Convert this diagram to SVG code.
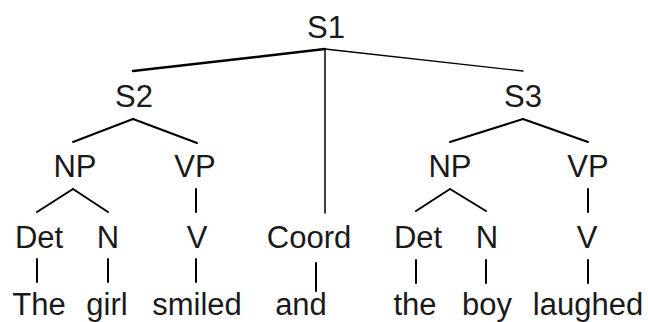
<svg xmlns="http://www.w3.org/2000/svg" width="648" height="322" viewBox="0 0 648 322">
<style>
text{font-family:"Liberation Sans",Arial,sans-serif;font-size:31px;fill:#1a1a1a;text-anchor:middle}
line{stroke:#000;stroke-width:2;stroke-linecap:round}
</style>
<rect width="648" height="322" fill="#fff"/>
<g id="connectors">
<line x1="325" y1="49" x2="133" y2="71" style="stroke-width:2.5"/>
<line x1="325" y1="49" x2="523" y2="71" style="stroke-width:1.3"/>
<line x1="325" y1="49" x2="325" y2="213" style="stroke-width:1.5"/>
<line x1="133" y1="119" x2="73" y2="142"/>
<line x1="133" y1="119" x2="197" y2="143"/>
<line x1="73" y1="189" x2="37" y2="212"/>
<line x1="73" y1="189" x2="108" y2="212"/>
<line x1="196" y1="189" x2="196" y2="212"/>
<line x1="37" y1="259" x2="37" y2="282"/>
<line x1="108" y1="259" x2="108" y2="282"/>
<line x1="196" y1="259" x2="196" y2="282"/>
<line x1="316" y1="263" x2="316" y2="291"/>
<line x1="523" y1="119" x2="450" y2="142"/>
<line x1="523" y1="119" x2="588" y2="142"/>
<line x1="450" y1="189" x2="416" y2="211"/>
<line x1="450" y1="189" x2="486" y2="211"/>
<line x1="588" y1="189" x2="588" y2="212"/>
<line x1="416" y1="260" x2="416" y2="283"/>
<line x1="486" y1="260" x2="486" y2="283"/>
<line x1="588" y1="260" x2="588" y2="283"/>
</g>
<g id="S1"><text x="326" y="38">S1</text></g>
<g id="S2"><text x="134" y="107">S2</text></g>
<g id="S3"><text x="523" y="107">S3</text></g>
<g id="NP1"><text x="75" y="177">NP</text></g>
<g id="VP1"><text x="195" y="177">VP</text></g>
<g id="NP2"><text x="450" y="177">NP</text></g>
<g id="VP2"><text x="588" y="177">VP</text></g>
<g id="Det1"><text x="39" y="248">Det</text></g>
<g id="N1"><text x="108" y="248">N</text></g>
<g id="V1"><text x="197" y="248">V</text></g>
<g id="Coord"><text x="309" y="248">Coord</text></g>
<g id="Det2"><text x="418" y="248">Det</text></g>
<g id="N2"><text x="487" y="248">N</text></g>
<g id="V2"><text x="587" y="248">V</text></g>
<g id="w_The"><text x="39" y="315">The</text></g>
<g id="w_girl"><text x="107" y="315">girl</text></g>
<g id="w_smiled"><text x="197" y="315">smiled</text></g>
<g id="w_and"><text x="301" y="315">and</text></g>
<g id="w_the"><text x="415" y="315">the</text></g>
<g id="w_boy"><text x="487" y="315">boy</text></g>
<g id="w_laughed"><text x="588" y="315">laughed</text></g>
</svg>
